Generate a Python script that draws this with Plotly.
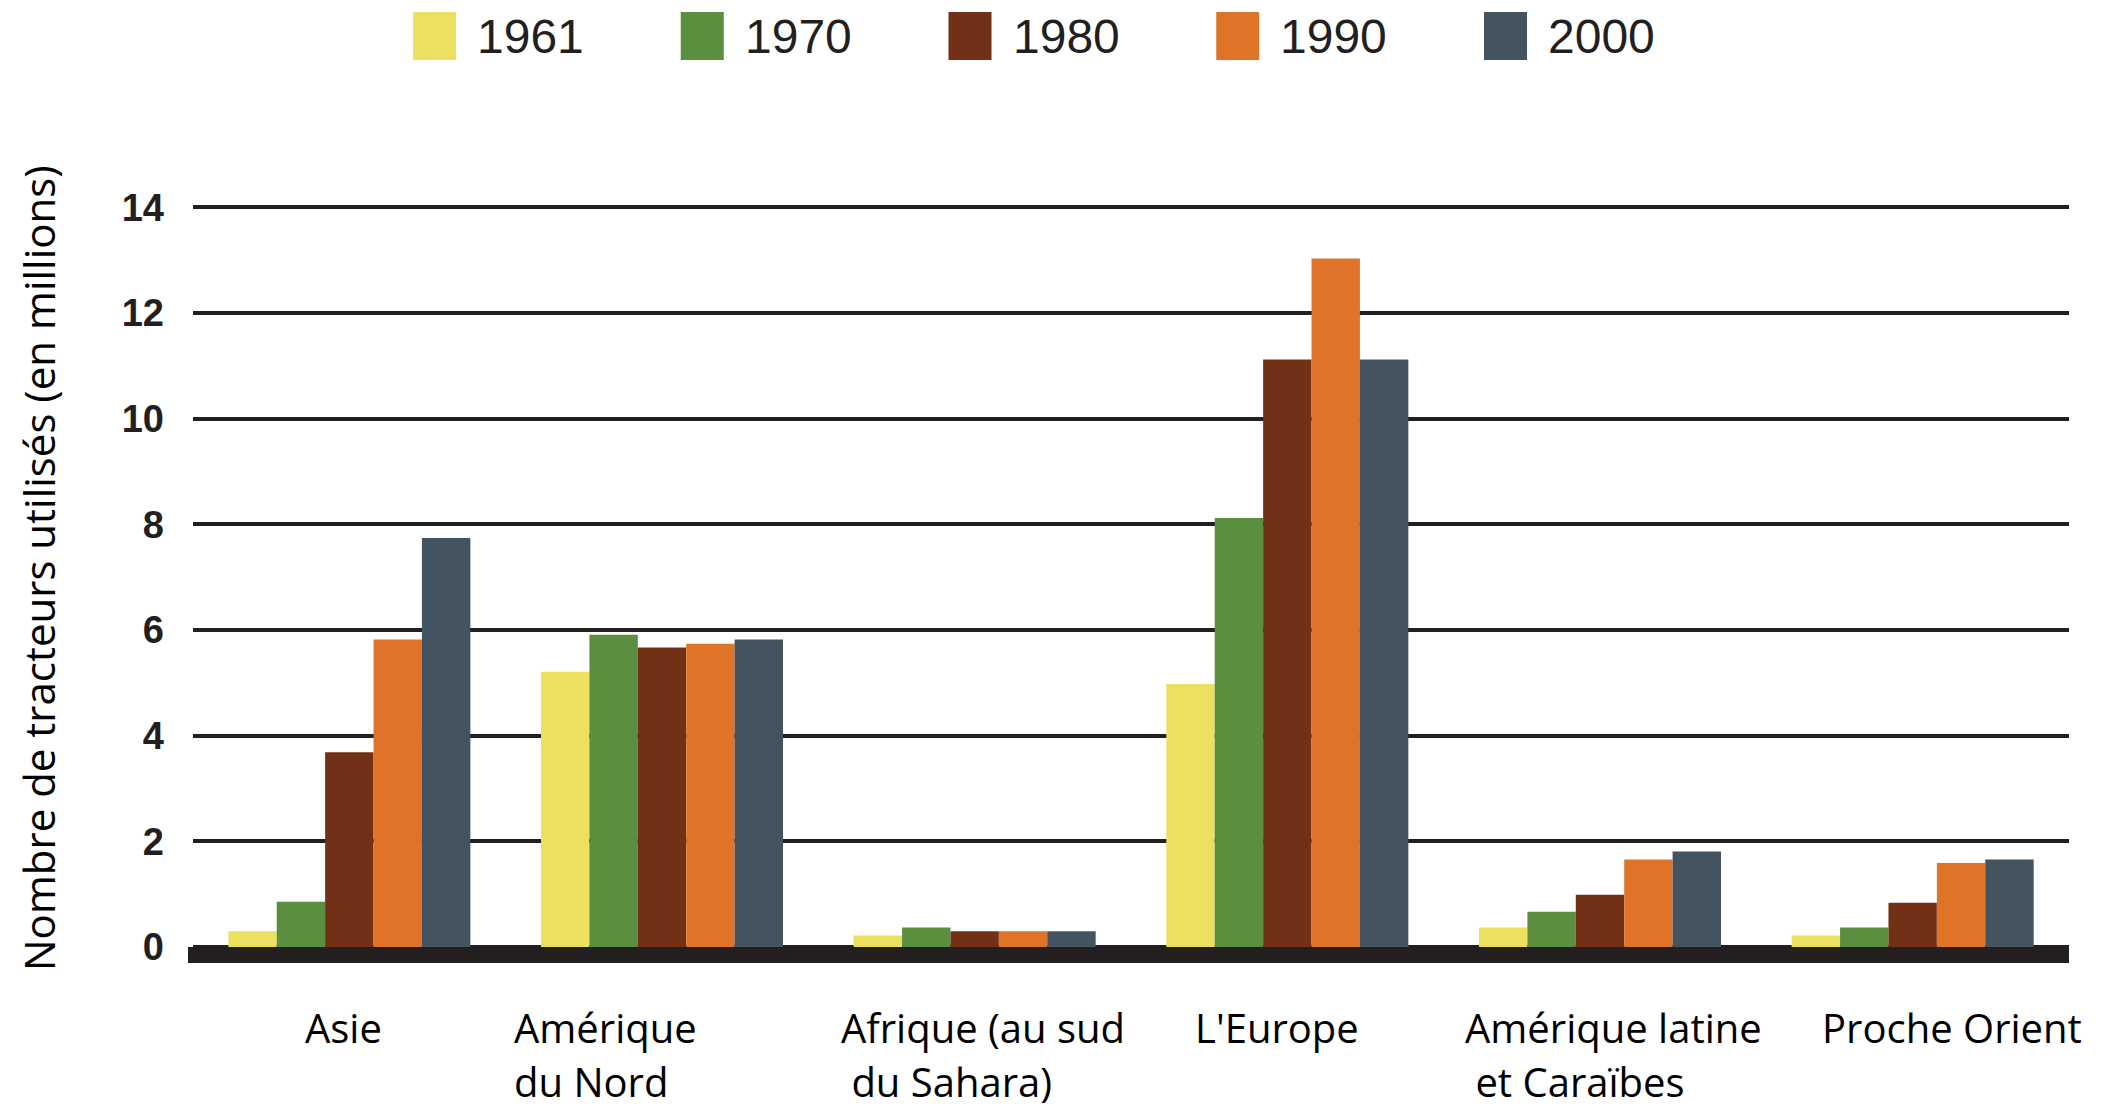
import plotly.graph_objects as go

# ---------------- data ----------------
categories = ["Asie", "Amérique du Nord", "Afrique (au sud du Sahara)",
              "L'Europe", "Amérique latine et Caraïbes", "Proche Orient"]
category_lines = [["Asie"], ["Amérique", "du Nord"], ["Afrique (au sud", "\u00a0du Sahara)"],
                  ["L'Europe"], ["Amérique latine", "\u00a0et Caraïbes"], ["Proche Orient"]]
years = ["1961", "1970", "1980", "1990", "2000"]
v1961 = [0.30, 5.21, 0.22, 4.98, 0.37, 0.22]
v1970 = [0.86, 5.91, 0.37, 8.12, 0.67, 0.37]
v1980 = [3.69, 5.67, 0.30, 11.12, 0.99, 0.84]
v1990 = [5.82, 5.74, 0.30, 13.03, 1.66, 1.59]
v2000 = [7.74, 5.82, 0.30, 11.12, 1.81, 1.66]
series = [v1961, v1970, v1980, v1990, v2000]
y_ticks = [0, 2, 4, 6, 8, 10, 12, 14]
y_title = "Nombre de tracteurs utilisés (en millions)"

# ---------------- style ----------------
colors = ["#EDE060", "#5B8E3E", "#723117", "#DF7429", "#435360"]
ink = "#231f20"
label_xshift = [-46, -150, -136, -94, -137, -93]

W_PAGE, H_PAGE = 2101, 1109
OFF = 8  # default body margin of the html page
PL, PR, PT, PB = 193, 2069, 202, 963  # plot area in page pixels
PW, PH = PR - PL, PB - PT


def px(x):
    return (x - PL) / PW


def py(y):
    return (PB - y) / PH


fig = go.Figure()
for yr, vals, col in zip(years, series, colors):
    fig.add_trace(go.Bar(x=categories, y=vals, name=yr,
                         marker=dict(color=col, line=dict(width=0))))

shapes = []
annotations = []

# thick baseline
shapes.append(dict(type="rect", xref="paper", yref="paper",
                   x0=px(188), x1=1, y0=0, y1=py(947),
                   fillcolor=ink, line=dict(width=0), layer="above"))

# custom legend
for k, (yr, col) in enumerate(zip(years, colors)):
    x0 = 413 + k * 267.75
    shapes.append(dict(type="rect", xref="paper", yref="paper",
                       x0=px(x0), x1=px(x0 + 43), y0=py(60), y1=py(12),
                       fillcolor=col, line=dict(width=0)))
    annotations.append(dict(text=yr, xref="paper", yref="paper",
                            x=px(x0 + 62), y=py(36), xanchor="left", yanchor="middle",
                            showarrow=False,
                            font=dict(family="Liberation Sans Narrow, Arial Narrow, Liberation Sans",
                                      size=48, color=ink)))

# category labels
for i, (lines, xs) in enumerate(zip(category_lines, label_xshift)):
    for j, ln in enumerate(lines):
        annotations.append(dict(text=ln, xref="x", yref="paper",
                                x=i, y=py(1027 + 54 * j), xshift=xs,
                                xanchor="left", yanchor="middle", showarrow=False,
                                font=dict(family="Open Sans", size=40, color="#000000")))

# y title
annotations.append(dict(text=y_title, xref="paper", yref="paper",
                        x=px(38), y=py(568), xanchor="center", yanchor="middle",
                        textangle=-90, showarrow=False,
                        font=dict(family="Open Sans", size=42, color="#000000")))

fig.update_layout(
    width=W_PAGE - OFF, height=H_PAGE - OFF,
    margin=dict(l=PL - OFF, r=W_PAGE - PR, t=PT - OFF, b=H_PAGE - PB, pad=0),
    paper_bgcolor="white", plot_bgcolor="white",
    barmode="group", bargap=0.226, bargroupgap=0,
    showlegend=False,
    shapes=shapes, annotations=annotations,
    xaxis=dict(type="category", range=[-0.5, 5.5], showticklabels=False,
               showgrid=False, zeroline=False, showline=False, ticks=""),
    yaxis=dict(range=[-0.30, 14.1], tickvals=y_ticks, showgrid=True,
               gridcolor=ink, gridwidth=4, zeroline=False, showline=False,
               ticks="", ticklabelstandoff=28,
               tickfont=dict(family="Liberation Sans", size=38, color=ink, weight="bold")),
)

fig.write_html("out.html")
